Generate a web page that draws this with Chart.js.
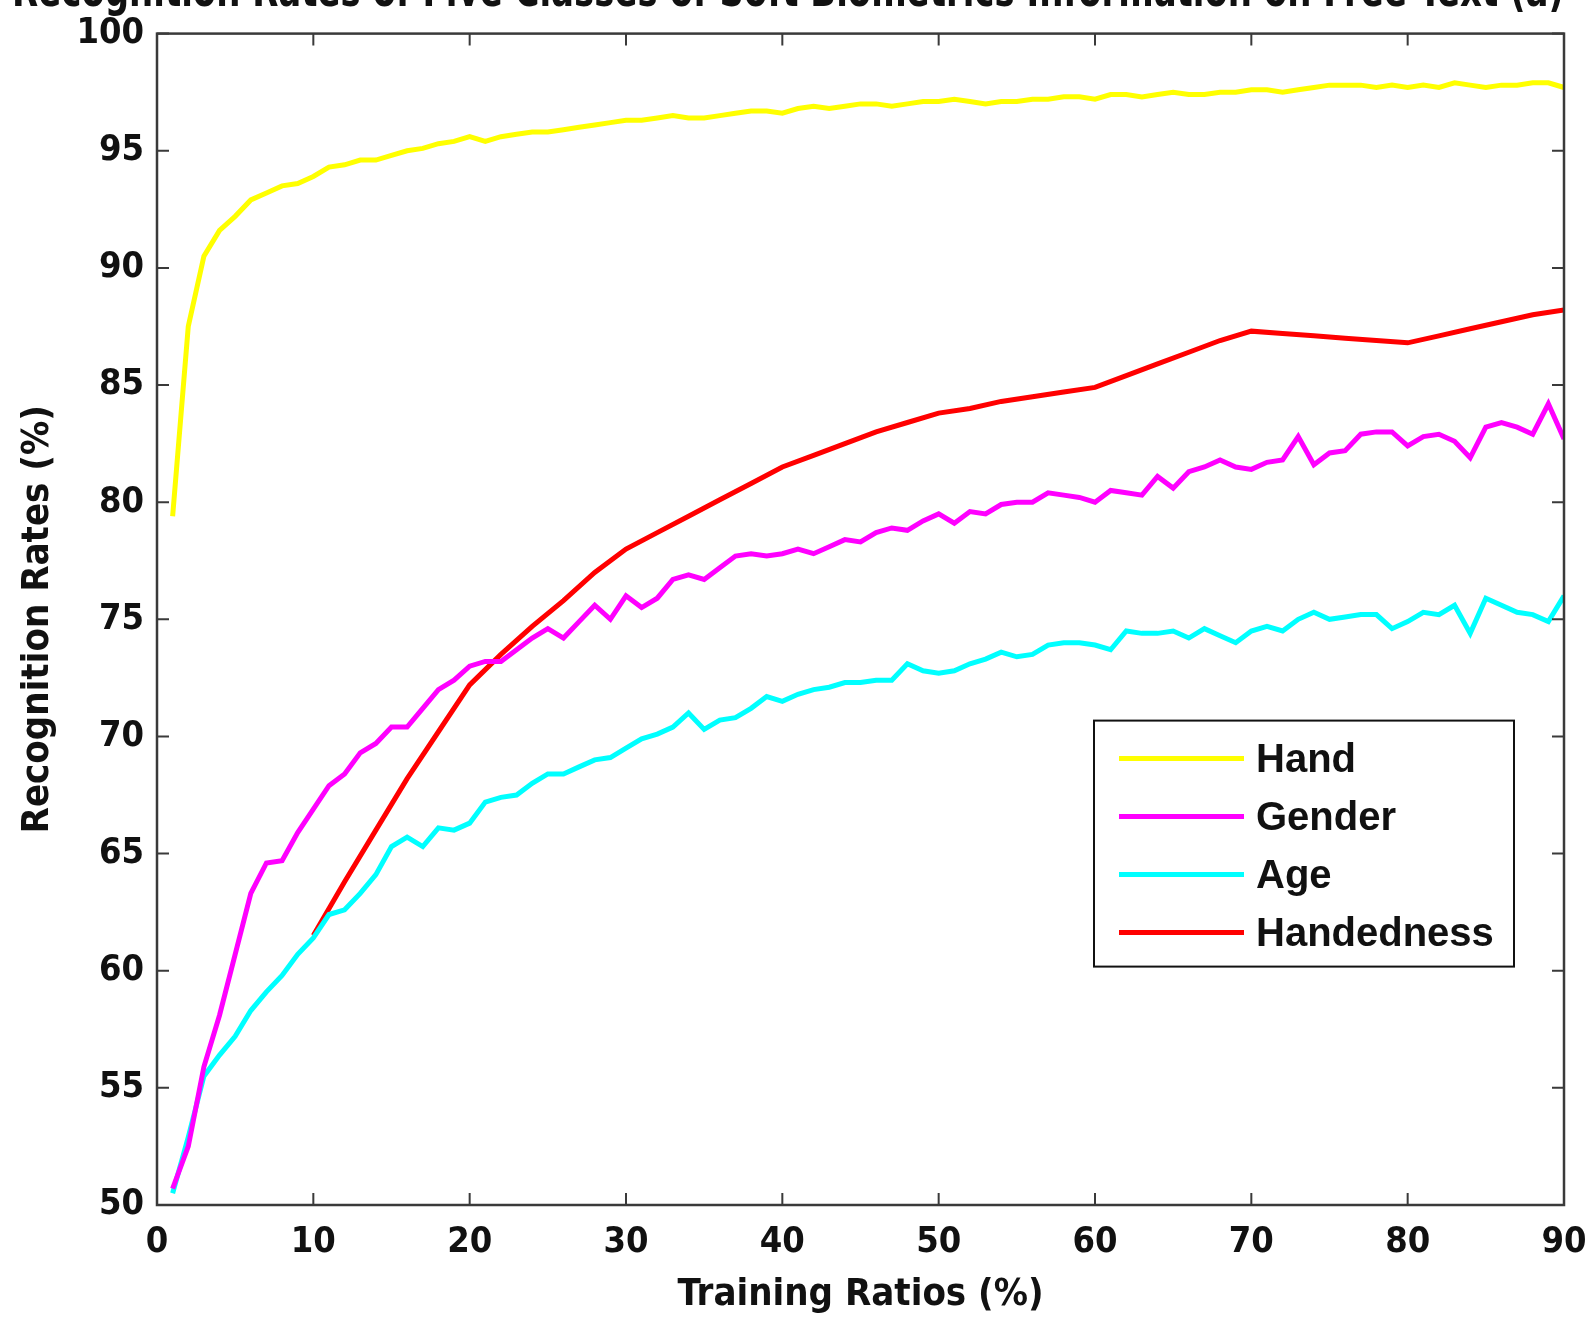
<!DOCTYPE html>
<html>
<head>
<meta charset="utf-8">
<script src="https://cdn.jsdelivr.net/npm/chart.js@4.4.1/dist/chart.umd.min.js"></script>
<style>
  html, body { margin: 0; padding: 0; background: #fff; overflow: hidden; }
  #wrap { position: absolute; left: 0; top: -38px; width: 1592px; height: 1355px; }
</style>
</head>
<body>
<div id="wrap"><canvas id="myChart" width="1592" height="1355"></canvas></div>
<script>
const trainingRatios = [1, 2, 3, 4, 5, 6, 7, 8, 9, 10, 11, 12, 13, 14, 15, 16, 17, 18, 19, 20,
    21, 22, 23, 24, 25, 26, 27, 28, 29, 30, 31, 32, 33, 34, 35, 36, 37, 38, 39, 40,
    41, 42, 43, 44, 45, 46, 47, 48, 49, 50, 51, 52, 53, 54, 55, 56, 57, 58, 59, 60,
    61, 62, 63, 64, 65, 66, 67, 68, 69, 70, 71, 72, 73, 74, 75, 76, 77, 78, 79, 80,
    81, 82, 83, 84, 85, 86, 87, 88, 89, 90];

const hand = [79.4, 87.5, 90.5, 91.6, 92.2, 92.9, 93.2, 93.5, 93.6, 93.9,
    94.3, 94.4, 94.6, 94.6, 94.8, 95.0, 95.1, 95.3, 95.4, 95.6,
    95.4, 95.6, 95.7, 95.8, 95.8, 95.9, 96.0, 96.1, 96.2, 96.3,
    96.3, 96.4, 96.5, 96.4, 96.4, 96.5, 96.6, 96.7, 96.7, 96.6,
    96.8, 96.9, 96.8, 96.9, 97.0, 97.0, 96.9, 97.0, 97.1, 97.1,
    97.2, 97.1, 97.0, 97.1, 97.1, 97.2, 97.2, 97.3, 97.3, 97.2,
    97.4, 97.4, 97.3, 97.4, 97.5, 97.4, 97.4, 97.5, 97.5, 97.6,
    97.6, 97.5, 97.6, 97.7, 97.8, 97.8, 97.8, 97.7, 97.8, 97.7,
    97.8, 97.7, 97.9, 97.8, 97.7, 97.8, 97.8, 97.9, 97.9, 97.7];

const gender = [50.7, 52.5, 55.9, 58.1, 60.7, 63.3, 64.6, 64.7, 65.9, 66.9,
    67.9, 68.4, 69.3, 69.7, 70.4, 70.4, 71.2, 72.0, 72.4, 73.0,
    73.2, 73.2, 73.7, 74.2, 74.6, 74.2, 74.9, 75.6, 75.0, 76.0,
    75.5, 75.9, 76.7, 76.9, 76.7, 77.2, 77.7, 77.8, 77.7, 77.8,
    78.0, 77.8, 78.1, 78.4, 78.3, 78.7, 78.9, 78.8, 79.2, 79.5,
    79.1, 79.6, 79.5, 79.9, 80.0, 80.0, 80.4, 80.3, 80.2, 80.0,
    80.5, 80.4, 80.3, 81.1, 80.6, 81.3, 81.5, 81.8, 81.5, 81.4,
    81.7, 81.8, 82.8, 81.6, 82.1, 82.2, 82.9, 83.0, 83.0, 82.4,
    82.8, 82.9, 82.6, 81.9, 83.2, 83.4, 83.2, 82.9, 84.2, 82.7];

const age = [50.5, 52.9, 55.5, 56.4, 57.2, 58.3, 59.1, 59.8, 60.7, 61.4,
    62.4, 62.6, 63.3, 64.1, 65.3, 65.7, 65.3, 66.1, 66.0, 66.3,
    67.2, 67.4, 67.5, 68.0, 68.4, 68.4, 68.7, 69.0, 69.1, 69.5,
    69.9, 70.1, 70.4, 71.0, 70.3, 70.7, 70.8, 71.2, 71.7, 71.5,
    71.8, 72.0, 72.1, 72.3, 72.3, 72.4, 72.4, 73.1, 72.8, 72.7,
    72.8, 73.1, 73.3, 73.6, 73.4, 73.5, 73.9, 74.0, 74.0, 73.9,
    73.7, 74.5, 74.4, 74.4, 74.5, 74.2, 74.6, 74.3, 74.0, 74.5,
    74.7, 74.5, 75.0, 75.3, 75.0, 75.1, 75.2, 75.2, 74.6, 74.9,
    75.3, 75.2, 75.6, 74.4, 75.9, 75.6, 75.3, 75.2, 74.9, 76.0];

// handedness only starts at 10%
const handednessRatios = [10, 12, 14, 16, 18, 20, 22, 24, 26, 28, 30, 32, 34, 36, 38, 40,
    42, 44, 46, 48, 50, 52, 54, 56, 58, 60, 62, 64, 66, 68, 70, 72, 74, 76, 78, 80,
    82, 84, 86, 88, 90];
const handedness = [61.5, 63.8, 66.0, 68.2, 70.2, 72.2, 73.5, 74.7, 75.8, 77.0, 78.0, 78.7,
    79.4, 80.1, 80.8, 81.5, 82.0, 82.5, 83.0, 83.4, 83.8, 84.0, 84.3, 84.5, 84.7, 84.9,
    85.4, 85.9, 86.4, 86.9, 87.3, 87.2, 87.1, 87.0, 86.9, 86.8, 87.1, 87.4, 87.7, 88.0, 88.2];

const xTicks = [0, 10, 20, 30, 40, 50, 60, 70, 80, 90];
const yTicks = [50, 55, 60, 65, 70, 75, 80, 85, 90, 95, 100];

const narrow = '"DejaVu Sans Condensed", "Liberation Sans", Arial, sans-serif';

function pairs(xs, ys) {
    return xs.map((x, i) => ({ x: x, y: ys[i] }));
}

// matlab style box with inward ticks + legend box inside the axes
const matlabFrame = {
    id: 'matlabFrame',
    afterDraw(chart) {
        const { ctx, chartArea: a, scales } = chart;
        ctx.save();
        ctx.strokeStyle = '#3a3a3a';
        ctx.lineWidth = 2.5;
        ctx.strokeRect(a.left, a.top, a.right - a.left, a.bottom - a.top);
        ctx.lineWidth = 2;
        const len = 12;
        ctx.beginPath();
        xTicks.forEach(v => {
            const px = scales.x.getPixelForValue(v);
            ctx.moveTo(px, a.bottom); ctx.lineTo(px, a.bottom - len);
            ctx.moveTo(px, a.top); ctx.lineTo(px, a.top + len);
        });
        yTicks.forEach(v => {
            const py = scales.y.getPixelForValue(v);
            ctx.moveTo(a.left, py); ctx.lineTo(a.left + len, py);
            ctx.moveTo(a.right, py); ctx.lineTo(a.right - len, py);
        });
        ctx.stroke();

        // legend
        const bx = a.right - 470, by = a.top + 687, bw = 420, bh = 246;
        ctx.fillStyle = '#fff';
        ctx.fillRect(bx, by, bw, bh);
        ctx.strokeStyle = '#111';
        ctx.lineWidth = 2;
        ctx.strokeRect(bx, by, bw, bh);
        ctx.font = 'bold 40px "Liberation Sans", Arial, sans-serif';
        ctx.textBaseline = 'middle';
        chart.data.datasets.forEach((ds, i) => {
            const cy = by + 38 + i * 58;
            ctx.strokeStyle = ds.borderColor;
            ctx.lineWidth = 5;
            ctx.beginPath();
            ctx.moveTo(bx + 25, cy);
            ctx.lineTo(bx + 150, cy);
            ctx.stroke();
            ctx.fillStyle = '#111';
            ctx.fillText(ds.label, bx + 162, cy + 2);
        });
        ctx.restore();
    }
};

const ctx = document.getElementById('myChart');

new Chart(ctx, {
    type: 'line',
    data: {
        datasets: [
            {
                label: 'Hand',
                data: pairs(trainingRatios, hand),
                borderColor: '#FFFF00',
                backgroundColor: '#FFFF00',
                borderWidth: 5,
            },
            {
                label: 'Gender',
                data: pairs(trainingRatios, gender),
                borderColor: '#FF00FF',
                backgroundColor: '#FF00FF',
                borderWidth: 5,
            },
            {
                label: 'Age',
                data: pairs(trainingRatios, age),
                borderColor: '#00FFFF',
                backgroundColor: '#00FFFF',
                borderWidth: 5,
            },
            {
                label: 'Handedness',
                data: pairs(handednessRatios, handedness),
                borderColor: '#FF0000',
                backgroundColor: '#FF0000',
                borderWidth: 5,
            },
        ]
    },
    options: {
        responsive: false,
        animation: false,
        elements: {
            point: { radius: 0 },
            line: { tension: 0 }
        },
        layout: {
            padding: { left: 12, right: 28, top: 0, bottom: 2 }
        },
        plugins: {
            legend: { display: false },
            tooltip: { enabled: false },
            title: {
                display: true,
                text: 'Recognition Rates of Five Classes of Soft Biometrics Information on Free Text (a)',
                color: '#111',
                font: { size: 48, family: narrow, weight: 'bold', lineHeight: 1.2 },
                padding: { top: 3, bottom: 11 }
            }
        },
        scales: {
            x: {
                type: 'linear',
                min: 0,
                max: 90,
                grid: { display: false, drawTicks: false },
                border: { display: false },
                afterBuildTicks: (s) => { s.ticks = xTicks.map(v => ({ value: v })); },
                afterFit: (s) => { s.height = 110; s.paddingRight = 0; s.paddingLeft = 0; },
                ticks: {
                    color: '#111',
                    padding: 16,
                    maxRotation: 0,
                    font: { size: 36, family: narrow, weight: 'bold' }
                },
                title: {
                    display: true,
                    text: 'Training Ratios (%)',
                    color: '#111',
                    padding: { top: 5, bottom: 0 },
                    font: { size: 38, family: narrow, weight: 'bold', lineHeight: 1.05 }
                }
            },
            y: {
                min: 50,
                max: 100,
                grid: { display: false, drawTicks: false },
                border: { display: false },
                afterBuildTicks: (s) => { s.ticks = yTicks.map(v => ({ value: v })); },
                afterFit: (s) => { s.width = 145; },
                ticks: {
                    color: '#111',
                    padding: 13,
                    font: { size: 36, family: narrow, weight: 'bold' }
                },
                title: {
                    display: true,
                    text: 'Recognition Rates (%)',
                    color: '#111',
                    padding: { top: 3, bottom: 7 },
                    font: { size: 38, family: narrow, weight: 'bold' }
                }
            }
        }
    },
    plugins: [matlabFrame]
});
</script>
</body>
</html>
